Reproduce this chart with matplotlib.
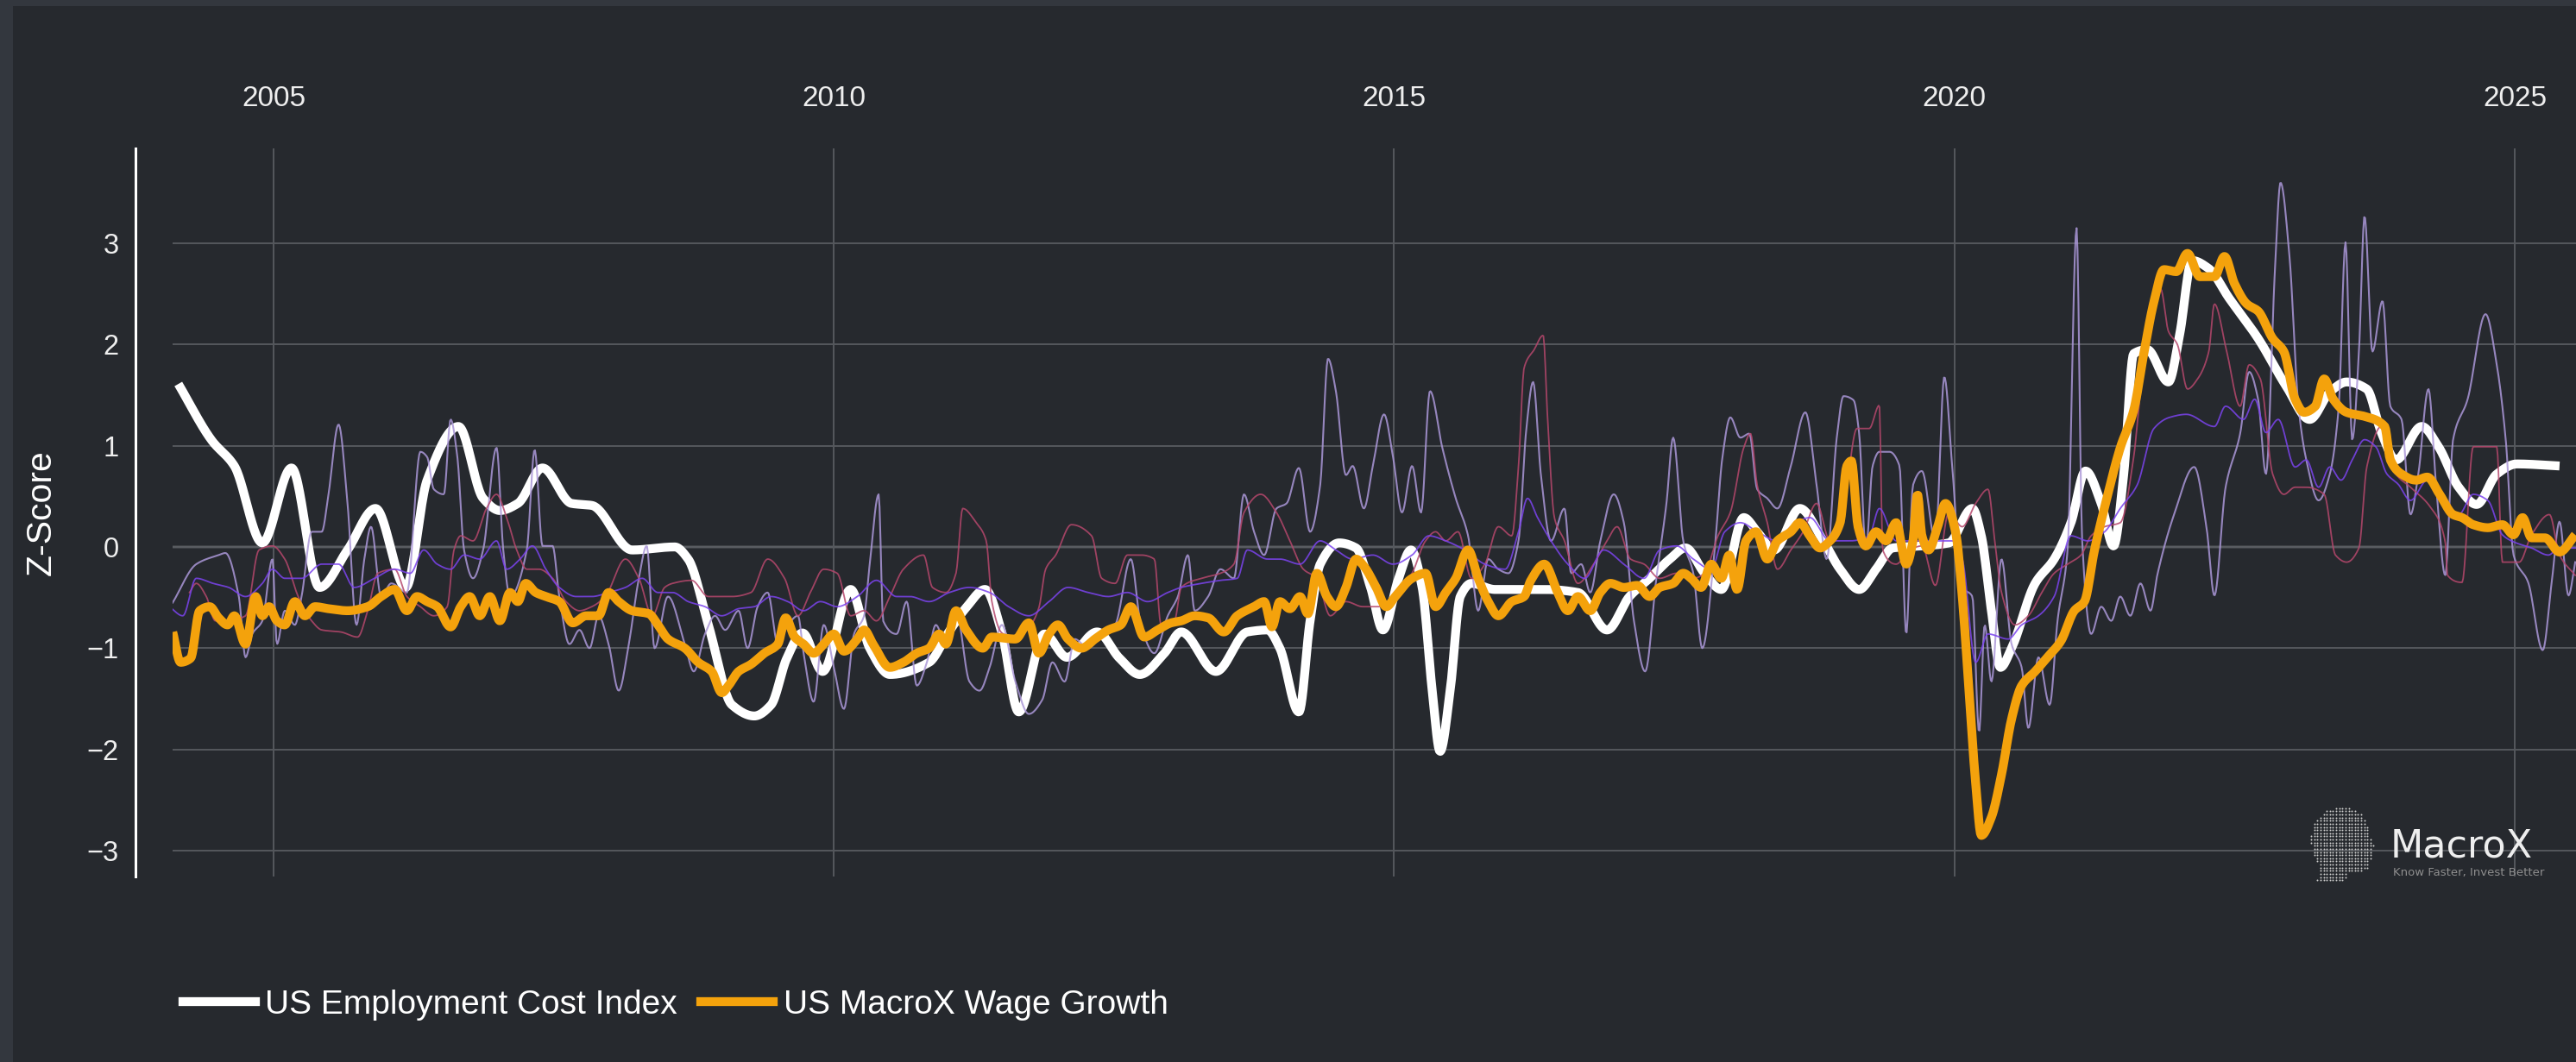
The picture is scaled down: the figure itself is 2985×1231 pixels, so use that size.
import numpy as np
import matplotlib
matplotlib.use("Agg")
import matplotlib.pyplot as plt
from matplotlib.lines import Line2D
from matplotlib.patches import Rectangle
from matplotlib.path import Path
from matplotlib.font_manager import FontProperties

# ---------------- data (decimal years, z-scores) ----------------
ECI_YEARS = [2004.15, 2004.45, 2004.65, 2004.90, 2005.16, 2005.41, 2005.66, 2005.91, 2006.18, 2006.37,
             2006.65, 2006.87, 2007.02, 2007.18, 2007.40, 2007.66, 2007.84, 2008.20, 2008.58, 2008.70,
             2008.88, 2009.09, 2009.29, 2009.44, 2009.58, 2009.72, 2009.90, 2010.15, 2010.32, 2010.50,
             2010.85, 2011.02, 2011.18, 2011.35, 2011.50, 2011.65, 2011.88, 2012.08, 2012.35, 2012.55,
             2012.73, 2012.95, 2013.10, 2013.41, 2013.69, 2013.87, 2013.98, 2014.15, 2014.25, 2014.34,
             2014.51, 2014.66, 2014.79, 2014.90, 2015.04, 2015.15, 2015.25, 2015.34, 2015.41, 2015.50,
             2015.59, 2015.69, 2015.90, 2016.34, 2016.64, 2016.90, 2017.10, 2017.28, 2017.46, 2017.60,
             2017.77, 2017.92, 2018.12, 2018.24, 2018.39, 2018.62, 2018.83, 2018.98, 2019.15, 2019.30,
             2019.45, 2019.71, 2019.95, 2020.16, 2020.24, 2020.33, 2020.41, 2020.51, 2020.72, 2020.89,
             2021.04, 2021.17, 2021.31, 2021.42, 2021.51, 2021.60, 2021.72, 2021.91, 2022.01, 2022.12,
             2022.27, 2022.45, 2022.71, 2022.96, 2023.17, 2023.35, 2023.50, 2023.68, 2023.81, 2023.94,
             2024.17, 2024.32, 2024.50, 2024.66, 2024.84, 2025.02, 2025.40]
ECI_VALUES = [1.61, 1.05, 0.80, 0.04, 0.78, -0.40, -0.03, 0.38, -0.40, 0.66,
              1.19, 0.48, 0.36, 0.43, 0.78, 0.43, 0.41, -0.03, 0.00, -0.12,
              -0.77, -1.56, -1.67, -1.56, -1.10, -0.85, -1.23, -0.42, -1.00, -1.26,
              -1.14, -0.85, -0.60, -0.42, -0.85, -1.63, -0.86, -1.09, -0.84, -1.10,
              -1.26, -1.05, -0.84, -1.23, -0.84, -0.82, -1.00, -1.63, -0.73, -0.17,
              0.04, -0.01, -0.40, -0.82, -0.31, -0.03, -0.40, -1.42, -2.02, -1.42,
              -0.49, -0.36, -0.42, -0.42, -0.45, -0.82, -0.49, -0.31, -0.12, -0.01,
              -0.26, -0.42, 0.29, 0.15, -0.03, 0.38, 0.06, -0.22, -0.42, -0.22,
              -0.01, 0.01, 0.04, 0.38, 0.11, -0.63, -1.19, -1.00, -0.36, -0.12,
              0.24, 0.75, 0.43, 0.01, 0.71, 1.91, 1.95, 1.63, 2.10, 2.83,
              2.75, 2.46, 2.06, 1.59, 1.26, 1.53, 1.63, 1.56, 1.13, 0.86,
              1.19, 0.99, 0.59, 0.42, 0.72, 0.82, 0.80]

WAGE_YEARS = [2004.10, 2004.17, 2004.26, 2004.34, 2004.43, 2004.51, 2004.59, 2004.65, 2004.75, 2004.84,
              2004.90, 2004.96, 2005.03, 2005.10, 2005.19, 2005.28, 2005.37, 2005.49, 2005.66, 2005.84,
              2005.96, 2006.08, 2006.19, 2006.28, 2006.37, 2006.46, 2006.58, 2006.67, 2006.75, 2006.84,
              2006.93, 2007.02, 2007.11, 2007.18, 2007.25, 2007.34, 2007.43, 2007.55, 2007.67, 2007.79,
              2007.90, 2007.99, 2008.08, 2008.20, 2008.35, 2008.43, 2008.52, 2008.67, 2008.79, 2008.91,
              2009.00, 2009.06, 2009.15, 2009.26, 2009.38, 2009.50, 2009.57, 2009.65, 2009.73, 2009.82,
              2009.91, 2010.00, 2010.09, 2010.21, 2010.27, 2010.35, 2010.50, 2010.62, 2010.74, 2010.85,
              2010.94, 2011.00, 2011.09, 2011.18, 2011.33, 2011.41, 2011.62, 2011.74, 2011.83, 2011.92,
              2012.00, 2012.09, 2012.21, 2012.33, 2012.45, 2012.56, 2012.65, 2012.77, 2012.89, 2013.01,
              2013.10, 2013.22, 2013.34, 2013.48, 2013.60, 2013.75, 2013.84, 2013.91, 2013.98, 2014.07,
              2014.16, 2014.23, 2014.31, 2014.40, 2014.48, 2014.57, 2014.66, 2014.73, 2014.84, 2014.93,
              2015.01, 2015.16, 2015.28, 2015.37, 2015.46, 2015.55, 2015.66, 2015.75, 2015.84, 2015.93,
              2016.05, 2016.16, 2016.22, 2016.34, 2016.46, 2016.55, 2016.64, 2016.75, 2016.84, 2016.93,
              2017.05, 2017.17, 2017.28, 2017.37, 2017.49, 2017.58, 2017.65, 2017.74, 2017.83, 2017.92,
              2017.99, 2018.06, 2018.14, 2018.23, 2018.33, 2018.42, 2018.54, 2018.62, 2018.71, 2018.80,
              2018.89, 2018.98, 2019.04, 2019.08, 2019.14, 2019.21, 2019.30, 2019.39, 2019.48, 2019.57,
              2019.63, 2019.67, 2019.71, 2019.77, 2019.85, 2019.92, 2020.01, 2020.07, 2020.13, 2020.19,
              2020.24, 2020.33, 2020.42, 2020.51, 2020.60, 2020.72, 2020.83, 2020.95, 2021.07, 2021.16,
              2021.25, 2021.36, 2021.48, 2021.60, 2021.69, 2021.78, 2021.87, 2021.98, 2022.08, 2022.19,
              2022.32, 2022.41, 2022.50, 2022.61, 2022.71, 2022.84, 2022.94, 2023.04, 2023.12, 2023.22,
              2023.30, 2023.38, 2023.50, 2023.66, 2023.84, 2023.89, 2023.99, 2024.12, 2024.22, 2024.33,
              2024.45, 2024.53, 2024.63, 2024.76, 2024.89, 2024.99, 2025.07, 2025.15, 2025.27, 2025.40,
              2025.54]
WAGE_VALUES = [-0.84, -1.14, -1.10, -0.63, -0.59, -0.70, -0.77, -0.68, -0.96, -0.49,
               -0.68, -0.59, -0.73, -0.77, -0.54, -0.68, -0.59, -0.61, -0.63, -0.59,
               -0.49, -0.42, -0.63, -0.49, -0.54, -0.59, -0.79, -0.59, -0.49, -0.68,
               -0.49, -0.73, -0.45, -0.54, -0.36, -0.45, -0.49, -0.54, -0.75, -0.68,
               -0.68, -0.45, -0.54, -0.63, -0.66, -0.77, -0.91, -1.00, -1.14, -1.23,
               -1.44, -1.37, -1.23, -1.16, -1.05, -0.96, -0.70, -0.89, -0.96, -1.05,
               -0.96, -0.86, -1.03, -0.91, -0.82, -0.96, -1.19, -1.14, -1.05, -1.00,
               -0.86, -0.96, -0.63, -0.82, -1.00, -0.89, -0.91, -0.75, -1.05, -0.86,
               -0.77, -0.91, -1.00, -0.91, -0.82, -0.77, -0.59, -0.89, -0.82, -0.75,
               -0.73, -0.68, -0.70, -0.84, -0.68, -0.59, -0.54, -0.79, -0.54, -0.61,
               -0.49, -0.66, -0.26, -0.49, -0.59, -0.40, -0.12, -0.19, -0.40, -0.59,
               -0.49, -0.31, -0.26, -0.59, -0.45, -0.31, -0.03, -0.31, -0.54, -0.68,
               -0.54, -0.49, -0.33, -0.17, -0.45, -0.63, -0.49, -0.63, -0.45, -0.36,
               -0.40, -0.38, -0.49, -0.40, -0.36, -0.26, -0.31, -0.40, -0.17, -0.31,
               -0.08, -0.42, 0.06, 0.15, -0.12, 0.06, 0.15, 0.24, 0.11, -0.01,
               0.06, 0.24, 0.80, 0.85, 0.20, 0.01, 0.15, 0.06, 0.24, -0.17,
               0.06, 0.52, 0.11, -0.03, 0.20, 0.43, 0.15, -0.49, -1.42, -2.34,
               -2.85, -2.67, -2.25, -1.70, -1.37, -1.23, -1.09, -0.93, -0.63, -0.54,
               -0.03, 0.48, 0.98, 1.35, 1.91, 2.42, 2.74, 2.72, 2.90, 2.67,
               2.67, 2.87, 2.60, 2.40, 2.33, 2.06, 1.93, 1.46, 1.33, 1.39,
               1.66, 1.46, 1.33, 1.29, 1.19, 0.86, 0.72, 0.66, 0.69, 0.52,
               0.32, 0.29, 0.22, 0.19, 0.22, 0.12, 0.29, 0.09, 0.09, -0.05,
               0.12]

# unlabeled component series (thin lines)
COMP_A_YEARS = [2004.10, 2004.31, 2004.51, 2004.57, 2004.69, 2004.75, 2004.81, 2004.90, 2004.99, 2005.03,
                2005.10, 2005.19, 2005.25, 2005.34, 2005.43, 2005.49, 2005.58, 2005.66, 2005.74, 2005.81,
                2005.87, 2005.96, 2006.05, 2006.19, 2006.31, 2006.37, 2006.43, 2006.52, 2006.58, 2006.64,
                2006.70, 2006.78, 2006.87, 2006.99, 2007.05, 2007.11, 2007.26, 2007.33, 2007.40, 2007.49,
                2007.55, 2007.64, 2007.73, 2007.82, 2007.90, 2007.99, 2008.08, 2008.17, 2008.26, 2008.33,
                2008.40, 2008.52, 2008.67, 2008.75, 2008.85, 2008.94, 2009.03, 2009.15, 2009.23, 2009.32,
                2009.41, 2009.50, 2009.59, 2009.68, 2009.73, 2009.82, 2009.91, 2010.00, 2010.09, 2010.18,
                2010.27, 2010.32, 2010.40, 2010.44, 2010.56, 2010.65, 2010.74, 2010.83, 2010.91, 2011.00,
                2011.09, 2011.21, 2011.30, 2011.39, 2011.50, 2011.62, 2011.74, 2011.86, 2011.95, 2012.06,
                2012.15, 2012.27, 2012.39, 2012.51, 2012.65, 2012.74, 2012.86, 2012.98, 2013.07, 2013.16,
                2013.22, 2013.34, 2013.45, 2013.57, 2013.66, 2013.75, 2013.84, 2013.95, 2014.04, 2014.15,
                2014.25, 2014.34, 2014.41, 2014.48, 2014.57, 2014.63, 2014.73, 2014.81, 2014.91, 2014.99,
                2015.07, 2015.16, 2015.24, 2015.32, 2015.43, 2015.55, 2015.66, 2015.75, 2015.84, 2015.93,
                2016.02, 2016.11, 2016.18, 2016.24, 2016.31, 2016.40, 2016.52, 2016.58, 2016.67, 2016.75,
                2016.84, 2016.96, 2017.05, 2017.14, 2017.24, 2017.34, 2017.43, 2017.49, 2017.58, 2017.67,
                2017.75, 2017.86, 2017.93, 2018.00, 2018.09, 2018.17, 2018.24, 2018.33, 2018.42, 2018.54,
                2018.67, 2018.77, 2018.86, 2018.95, 2019.01, 2019.10, 2019.15, 2019.21, 2019.27, 2019.33,
                2019.42, 2019.51, 2019.57, 2019.63, 2019.71, 2019.83, 2019.91, 2019.98, 2020.07, 2020.16,
                2020.22, 2020.27, 2020.33, 2020.42, 2020.51, 2020.60, 2020.66, 2020.75, 2020.85, 2020.92,
                2021.01, 2021.09, 2021.14, 2021.22, 2021.31, 2021.40, 2021.48, 2021.57, 2021.66, 2021.75,
                2021.81, 2021.96, 2022.14, 2022.25, 2022.32, 2022.42, 2022.55, 2022.63, 2022.71, 2022.78,
                2022.86, 2022.91, 2022.99, 2023.07, 2023.14, 2023.25, 2023.35, 2023.43, 2023.49, 2023.55,
                2023.61, 2023.66, 2023.73, 2023.82, 2023.89, 2023.99, 2024.07, 2024.14, 2024.23, 2024.30,
                2024.38, 2024.45, 2024.58, 2024.74, 2024.84, 2024.92, 2024.99, 2025.12, 2025.25, 2025.33,
                2025.40, 2025.48, 2025.54]
COMP_A_VALUES = [-0.55, -0.17, -0.08, -0.06, -0.49, -1.09, -0.86, -0.73, -0.12, -0.96,
                 -0.63, -0.77, -0.49, 0.15, 0.15, 0.52, 1.21, 0.43, -0.77, -0.12,
                 0.20, -0.49, -0.36, -0.45, 0.94, 0.89, 0.57, 0.52, 1.26, 0.89,
                 -0.03, -0.31, -0.03, 0.98, -0.03, -0.49, -0.03, 0.96, 0.01, 0.01,
                 -0.49, -0.96, -0.82, -1.00, -0.68, -0.96, -1.42, -0.96, -0.31, 0.01,
                 -1.00, -0.49, -0.96, -1.23, -0.86, -0.68, -0.82, -0.63, -1.00, -0.59,
                 -0.45, -0.96, -0.77, -0.68, -1.05, -1.53, -0.77, -1.19, -1.60, -0.86,
                 -0.68, -0.17, 0.52, -0.73, -0.86, -0.54, -1.37, -1.14, -0.77, -0.96,
                 -0.63, -1.33, -1.42, -1.19, -0.77, -1.33, -1.65, -1.51, -1.14, -1.33,
                 -0.91, -1.00, -0.86, -0.77, -0.12, -0.77, -1.05, -0.68, -0.49, -0.08,
                 -0.63, -0.49, -0.22, -0.31, 0.52, 0.15, -0.08, 0.38, 0.43, 0.78,
                 0.15, 0.61, 1.86, 1.54, 0.71, 0.80, 0.38, 0.80, 1.31, 0.89,
                 0.34, 0.80, 0.34, 1.54, 0.98, 0.48, 0.11, -0.63, -0.12, -0.22,
                 -0.26, 0.06, 1.17, 1.63, 0.71, 0.06, 0.38, -0.26, -0.17, -0.45,
                 0.06, 0.52, 0.24, -0.73, -1.23, -0.31, 0.43, 1.08, 0.06, -0.26,
                 -1.00, -0.03, 0.89, 1.28, 1.08, 1.12, 0.57, 0.48, 0.38, 0.80,
                 1.33, 0.61, -0.12, 1.08, 1.49, 1.45, 1.12, -0.03, 0.80, 0.94,
                 0.94, 0.80, -0.86, 0.61, 0.75, 0.06, 1.68, 0.80, -0.40, -0.49,
                 -1.83, -0.77, -1.33, -0.12, -0.96, -1.19, -1.79, -1.09, -1.56, -0.73,
                 -0.03, 3.15, 0.06, -0.86, -0.59, -0.73, -0.49, -0.68, -0.36, -0.63,
                 -0.28, 0.32, 0.79, 0.19, -0.48, 0.59, 1.12, 1.73, 1.46, 0.72,
                 2.73, 3.60, 2.87, 1.39, 0.86, 0.46, 0.72, 1.39, 3.01, 1.06,
                 1.93, 3.27, 1.93, 2.43, 1.39, 1.26, 0.32, 0.72, 1.56, 0.59,
                 -0.28, 1.06, 1.46, 2.30, 1.80, 1.06, -0.08, -0.35, -1.02, -0.35,
                 0.25, -0.48, -0.15]

COMP_B_YEARS = [2004.25, 2004.31, 2004.40, 2004.48, 2004.60, 2004.75, 2004.87, 2004.99, 2005.10, 2005.22,
                2005.34, 2005.43, 2005.60, 2005.75, 2005.84, 2005.93, 2006.08, 2006.19, 2006.31, 2006.43,
                2006.55, 2006.61, 2006.67, 2006.78, 2006.90, 2006.99, 2007.08, 2007.17, 2007.26, 2007.37,
                2007.49, 2007.61, 2007.73, 2007.84, 2007.96, 2008.14, 2008.26, 2008.38, 2008.49, 2008.56,
                2008.73, 2008.88, 2009.09, 2009.26, 2009.41, 2009.56, 2009.68, 2009.79, 2009.91, 2010.03,
                2010.15, 2010.27, 2010.38, 2010.50, 2010.62, 2010.80, 2010.88, 2011.00, 2011.09, 2011.15,
                2011.27, 2011.36, 2011.41, 2011.50, 2011.62, 2011.74, 2011.83, 2011.89, 2011.98, 2012.12,
                2012.30, 2012.39, 2012.51, 2012.62, 2012.74, 2012.86, 2012.92, 2013.04, 2013.10, 2013.28,
                2013.45, 2013.57, 2013.66, 2013.81, 2013.95, 2014.07, 2014.19, 2014.31, 2014.43, 2014.57,
                2014.72, 2014.87, 2015.01, 2015.16, 2015.28, 2015.37, 2015.46, 2015.57, 2015.69, 2015.81,
                2015.93, 2016.05, 2016.11, 2016.16, 2016.25, 2016.33, 2016.37, 2016.43, 2016.52, 2016.64,
                2016.78, 2016.90, 2016.99, 2017.11, 2017.23, 2017.37, 2017.52, 2017.67, 2017.77, 2017.89,
                2018.00, 2018.12, 2018.18, 2018.24, 2018.33, 2018.42, 2018.54, 2018.65, 2018.77, 2018.89,
                2019.01, 2019.13, 2019.24, 2019.33, 2019.36, 2019.48, 2019.60, 2019.71, 2019.83, 2019.95,
                2020.07, 2020.19, 2020.30, 2020.36, 2020.42, 2020.54, 2020.66, 2020.78, 2020.89, 2021.01,
                2021.13, 2021.22, 2021.34, 2021.48, 2021.60, 2021.66, 2021.75, 2021.84, 2021.91, 2021.99,
                2022.08, 2022.17, 2022.27, 2022.32, 2022.43, 2022.55, 2022.63, 2022.73, 2022.84, 2022.94,
                2023.04, 2023.14, 2023.30, 2023.40, 2023.50, 2023.61, 2023.68, 2023.81, 2023.94, 2024.07,
                2024.25, 2024.38, 2024.40, 2024.53, 2024.63, 2024.84, 2024.89, 2025.04, 2025.15, 2025.31,
                2025.40, 2025.54]
COMP_B_VALUES = [-0.45, -0.36, -0.49, -0.73, -0.73, -0.68, -0.03, 0.01, -0.12, -0.49,
                 -0.73, -0.82, -0.84, -0.89, -0.63, -0.26, -0.22, -0.49, -0.59, -0.68,
                 -0.59, -0.03, 0.11, 0.06, 0.38, 0.52, 0.29, -0.03, -0.22, -0.22,
                 -0.31, -0.54, -0.63, -0.59, -0.49, -0.12, -0.31, -0.68, -0.40, -0.36,
                 -0.33, -0.49, -0.49, -0.45, -0.12, -0.31, -0.68, -0.45, -0.22, -0.26,
                 -0.68, -0.63, -0.73, -0.49, -0.22, -0.08, -0.40, -0.45, -0.26, 0.38,
                 0.24, 0.06, -0.54, -0.85, -0.90, -0.80, -0.60, -0.22, -0.08, 0.22,
                 0.11, -0.31, -0.36, -0.08, -0.08, -0.12, -0.77, -0.73, -0.40, -0.31,
                 -0.26, -0.17, 0.34, 0.52, 0.34, 0.06, -0.22, -0.31, -0.68, -0.54,
                 -0.59, -0.59, -0.49, -0.26, 0.06, 0.15, 0.06, 0.15, -0.31, -0.17,
                 0.20, 0.11, 0.80, 1.77, 1.95, 2.09, 1.26, 0.29, 0.06, -0.36,
                 -0.17, 0.06, 0.20, -0.12, -0.17, -0.31, -0.26, -0.31, -0.26, 0.11,
                 0.34, 0.98, 1.12, 0.61, 0.24, -0.22, -0.03, 0.15, 0.43, 0.06,
                 0.38, 1.17, 1.17, 1.40, -0.03, -0.17, -0.03, 0.01, -0.38, 0.34,
                 0.20, 0.43, 0.57, 0.06, -0.45, -0.77, -0.68, -0.45, -0.26, -0.17,
                 -0.08, 0.11, 0.20, 0.24, 0.89, 1.54, 2.37, 2.55, 2.13, 2.00,
                 1.56, 1.66, 1.93, 2.40, 1.93, 1.39, 1.80, 1.66, 0.72, 0.52,
                 0.59, 0.59, 0.52, -0.08, -0.15, -0.01, 0.79, 1.19, 0.72, 0.59,
                 0.39, 0.05, -0.28, -0.35, 0.99, 0.99, -0.15, -0.15, 0.12, 0.32,
                 -0.08, -0.28]

COMP_C_YEARS = [2004.07, 2004.19, 2004.31, 2004.46, 2004.60, 2004.75, 2004.90, 2004.99, 2005.10, 2005.25,
                2005.43, 2005.58, 2005.72, 2005.90, 2006.08, 2006.22, 2006.34, 2006.46, 2006.58, 2006.70,
                2006.84, 2006.99, 2007.08, 2007.20, 2007.31, 2007.43, 2007.55, 2007.70, 2007.84, 2007.99,
                2008.14, 2008.29, 2008.43, 2008.56, 2008.70, 2008.85, 2009.00, 2009.15, 2009.29, 2009.44,
                2009.59, 2009.73, 2009.88, 2010.03, 2010.21, 2010.38, 2010.56, 2010.68, 2010.85, 2011.03,
                2011.21, 2011.39, 2011.56, 2011.74, 2011.92, 2012.09, 2012.27, 2012.45, 2012.62, 2012.80,
                2012.98, 2013.10, 2013.28, 2013.45, 2013.60, 2013.69, 2013.87, 2013.98, 2014.16, 2014.34,
                2014.48, 2014.63, 2014.81, 2014.99, 2015.16, 2015.31, 2015.46, 2015.63, 2015.81, 2015.99,
                2016.11, 2016.19, 2016.28, 2016.40, 2016.55, 2016.70, 2016.87, 2017.05, 2017.23, 2017.37,
                2017.52, 2017.67, 2017.83, 2017.95, 2018.09, 2018.24, 2018.42, 2018.54, 2018.71, 2018.89,
                2019.07, 2019.24, 2019.33, 2019.48, 2019.66, 2019.83, 2019.98, 2020.07, 2020.19, 2020.30,
                2020.48, 2020.60, 2020.75, 2020.89, 2021.04, 2021.19, 2021.34, 2021.48, 2021.63, 2021.78,
                2021.92, 2022.07, 2022.32, 2022.42, 2022.58, 2022.68, 2022.78, 2022.89, 2023.04, 2023.14,
                2023.25, 2023.35, 2023.45, 2023.55, 2023.66, 2023.76, 2023.86, 2023.96, 2024.07, 2024.22,
                2024.38, 2024.50, 2024.63, 2024.76, 2024.89, 2024.99, 2025.15, 2025.30, 2025.40, 2025.54]
COMP_C_VALUES = [-0.59, -0.68, -0.31, -0.36, -0.40, -0.49, -0.36, -0.22, -0.31, -0.31,
                 -0.17, -0.17, -0.40, -0.31, -0.22, -0.26, -0.03, -0.17, -0.22, -0.08,
                 -0.12, 0.06, -0.22, -0.12, 0.01, -0.22, -0.40, -0.49, -0.49, -0.45,
                 -0.40, -0.31, -0.45, -0.45, -0.54, -0.59, -0.68, -0.61, -0.59, -0.49,
                 -0.54, -0.63, -0.54, -0.59, -0.49, -0.33, -0.49, -0.49, -0.54, -0.45,
                 -0.40, -0.45, -0.59, -0.68, -0.54, -0.40, -0.45, -0.49, -0.45, -0.54,
                 -0.45, -0.40, -0.36, -0.33, -0.31, -0.03, -0.12, -0.12, -0.17, 0.06,
                 -0.03, -0.12, -0.08, -0.17, -0.08, 0.11, 0.06, -0.03, -0.17, -0.22,
                 0.15, 0.48, 0.29, 0.06, -0.17, -0.31, -0.03, -0.17, -0.31, -0.03,
                 0.01, -0.12, -0.22, 0.15, 0.24, 0.15, 0.06, 0.20, 0.29, 0.06,
                 0.06, 0.11, 0.38, 0.06, 0.06, 0.06, 0.06, -0.12, -1.14, -0.86,
                 -0.91, -0.77, -0.68, -0.49, 0.11, 0.06, 0.15, 0.38, 0.61, 1.17,
                 1.28, 1.31, 1.19, 1.39, 1.26, 1.46, 1.13, 1.26, 0.79, 0.86,
                 0.59, 0.79, 0.66, 0.86, 1.06, 0.99, 0.72, 0.62, 0.46, 0.66,
                 0.46, 0.32, 0.52, 0.46, 0.12, 0.05, -0.01, -0.08, -0.01, -0.01]

X_TICKS = [2005, 2010, 2015, 2020, 2025]
X_TICK_LABELS = ["2005", "2010", "2015", "2020", "2025"]
Y_TICKS = [-3, -2, -1, 0, 1, 2, 3]
Y_TICK_LABELS = ["\u22123", "\u22122", "\u22121", "0", "1", "2", "3"]
SERIES_LABELS = ["US Employment Cost Index", "US MacroX Wage Growth"]

# ---------------- style ----------------
W, H, DPI = 2985, 1231, 100
BORDER = "#33373e"
PANEL = "#26292e"
GRID = "#55585d"
ORANGE = "#f4a20c"
LAVENDER = "#ab97d8"
ROSE = "#b5476c"
VIOLET = "#7b43ee"
FONT = "Liberation Sans"


def smooth(xs, ys, n_per_year=120):
    """Monotone cubic (PCHIP-style) curve through the given points, for a spline line shape."""
    x = np.asarray(xs, float)
    y = np.asarray(ys, float)
    h = np.diff(x)
    d = np.diff(y) / h
    m = np.zeros_like(y)
    for k in range(1, len(x) - 1):
        if d[k - 1] * d[k] > 0:
            w1 = 2 * h[k] + h[k - 1]
            w2 = h[k] + 2 * h[k - 1]
            m[k] = (w1 + w2) / (w1 / d[k - 1] + w2 / d[k])
    m[0] = d[0]
    m[-1] = d[-1]
    xs_new = np.linspace(x[0], x[-1], int((x[-1] - x[0]) * n_per_year) + 2)
    idx = np.clip(np.searchsorted(x, xs_new) - 1, 0, len(x) - 2)
    t = (xs_new - x[idx]) / h[idx]
    h00 = 2 * t**3 - 3 * t**2 + 1
    h10 = t**3 - 2 * t**2 + t
    h01 = -2 * t**3 + 3 * t**2
    h11 = t**3 - t**2
    ys_new = h00 * y[idx] + h10 * h[idx] * m[idx] + h01 * y[idx + 1] + h11 * h[idx] * m[idx + 1]
    return xs_new, ys_new


plt.rcParams["font.family"] = [FONT, "DejaVu Sans"]

fig = plt.figure(figsize=(W / DPI, H / DPI), dpi=DPI, facecolor=BORDER)
fig.patches.append(Rectangle((15 / W, 0), 1 - 15 / W, 1 - 7 / H, transform=fig.transFigure,
                             facecolor=PANEL, edgecolor="none", zorder=-10))

ax = fig.add_axes([200 / W, (H - 1016) / H, (W - 200) / W, (1016 - 172) / H])
ax.set_facecolor("none")
ax.set_xlim(2004.099, 2025.547)
ax.set_ylim(-3.256, 3.9375)

for s in ["top", "right", "bottom"]:
    ax.spines[s].set_visible(False)
ax.spines["left"].set_position(("outward", 31))
ax.spines["left"].set_color("white")
ax.spines["left"].set_linewidth(2.2)

ax.set_yticks(Y_TICKS)
ax.set_yticklabels(Y_TICK_LABELS)
ax.xaxis.tick_top()
ax.set_xticks(X_TICKS)
ax.set_xticklabels(X_TICK_LABELS)
ax.tick_params(axis="y", length=0, pad=14, labelsize=23.5, labelcolor="#eeeeee")
ax.tick_params(axis="x", length=0, pad=30, labelsize=24, labelcolor="#eeeeee")
ax.grid(True, color=GRID, linewidth=1.4, zorder=0)
ax.axhline(0, color="white", linewidth=1.6, zorder=1)

# thick series
ex, ey = smooth(ECI_YEARS, ECI_VALUES)
ax.plot(ex, ey, color="white", linewidth=7.4, solid_capstyle="butt", zorder=3)

# thin component series
for yrs, vals, col, lw in [(COMP_A_YEARS, COMP_A_VALUES, LAVENDER, 1.5),
                           (COMP_B_YEARS, COMP_B_VALUES, ROSE, 1.3),
                           (COMP_C_YEARS, COMP_C_VALUES, VIOLET, 1.3)]:
    cx, cy = smooth(yrs, vals)
    ax.plot(cx, cy, color=col, linewidth=lw, alpha=0.85, zorder=4)

wx, wy = smooth(WAGE_YEARS, WAGE_VALUES)
ax.plot(wx, wy, color=ORANGE, linewidth=7.4, solid_capstyle="butt", zorder=5)

# y label
fig.text(48 / W, 1 - 594 / H, "Z-Score", rotation=90, ha="center", va="center",
         fontsize=29.5, color="white")

# legend
handles = [Line2D([], [], color="white", linewidth=7.4),
           Line2D([], [], color=ORANGE, linewidth=7.4)]
fig.legend(handles, SERIES_LABELS, loc="center left", bbox_to_anchor=(212 / W, 1 - 1165 / H),
           frameon=False, ncol=2, handlelength=2.15, handletextpad=0.3, columnspacing=0.7,
           borderpad=0, borderaxespad=0, prop=FontProperties(family=FONT, size=28),
           labelcolor="white")

# watermark logo
lax = fig.add_axes([2673 / W, 1 - 1022 / H, 79 / W, 87 / H])
lax.set_xlim(0, 1)
lax.set_ylim(0, 1)
lax.axis("off")
head = Path([(0.05, 0.55), (0.10, 0.80), (0.30, 0.97), (0.60, 1.00), (0.80, 0.90), (0.90, 0.72),
             (0.92, 0.60), (1.00, 0.45), (0.93, 0.42), (0.95, 0.32), (0.90, 0.28), (0.92, 0.20),
             (0.80, 0.12), (0.60, 0.12), (0.55, 0.00), (0.15, 0.00), (0.20, 0.20), (0.10, 0.35),
             (0.05, 0.55)])
gx, gy = np.meshgrid(np.linspace(0.02, 0.98, 22), np.linspace(0.02, 0.98, 24))
pts = np.column_stack([gx.ravel(), gy.ravel()])
inside = head.contains_points(pts)
lax.scatter(pts[inside, 0], pts[inside, 1], s=2.0, color="#d2d2d2", linewidths=0)
fig.text(2770 / W, 1 - 981 / H, "MacroX", ha="left", va="center", fontsize=32,
         family="DejaVu Sans", color="#eeeeee")
fig.text(2773 / W, 1 - 1011 / H, "Know Faster, Invest Better", ha="left", va="center",
         fontsize=9.5, family="DejaVu Sans", color="#8e8e8e")

fig.savefig("out.png", dpi=DPI, facecolor=BORDER)
